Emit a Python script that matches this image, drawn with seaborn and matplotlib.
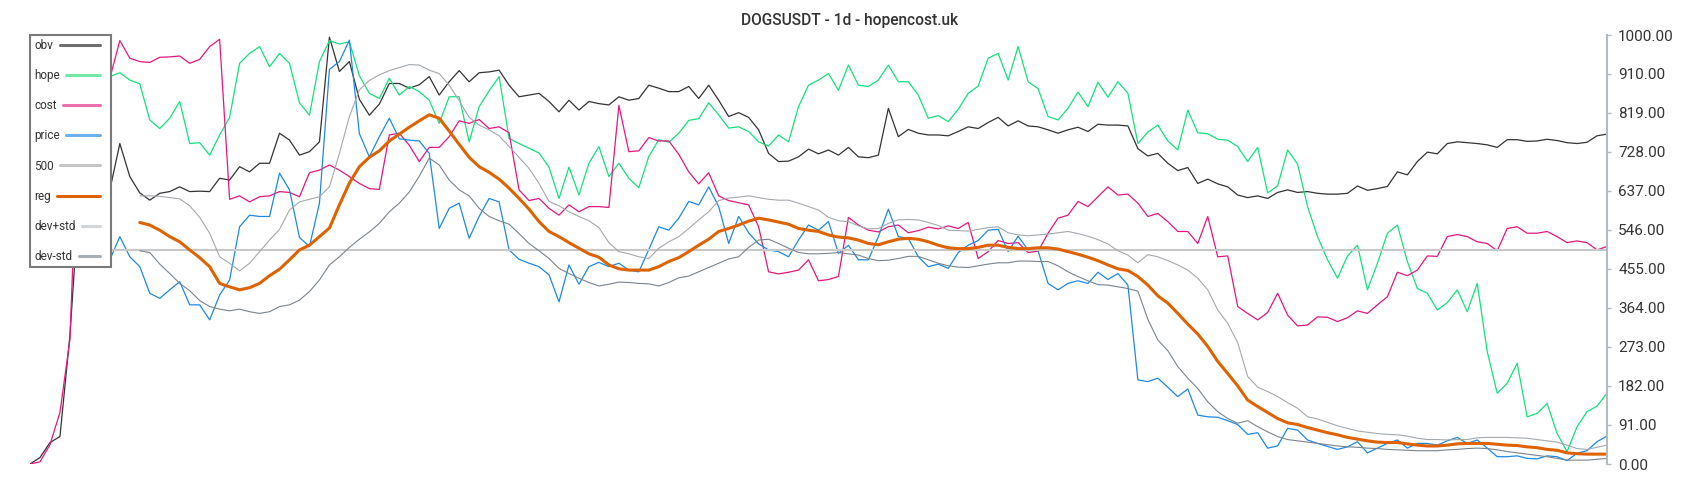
import numpy as np
import pandas as pd
import matplotlib
matplotlib.use("Agg")
import matplotlib.pyplot as plt
from matplotlib.lines import Line2D
from matplotlib.legend_handler import HandlerBase
import seaborn as sns

title = "DOGSUSDT - 1d - hopencost.uk"
labels = ["obv", "hope", "cost", "price", "500", "reg", "dev+std", "dev-std"]
y_ticks = [0, 91, 182, 273, 364, 455, 546, 637, 728, 819, 910, 1000]
level_500 = 500

# one value per day (0..1000 scale)
obv = [0, 15, 50, 64, 300, 650, 660, 650,
       639, 747, 670, 632, 615, 631, 635, 646, 635, 636,
       635, 666, 662, 693, 681, 701, 701, 771, 755, 720,
       728, 751, 995, 915, 938, 850, 813, 839, 887, 887,
       876, 884, 903, 860, 891, 917, 891, 912, 914, 918,
       883, 856, 860, 864, 845, 821, 848, 825, 845, 840,
       837, 856, 848, 852, 883, 876, 868, 868, 880, 852,
       883, 848, 810, 819, 808, 779, 724, 705, 706, 716,
       734, 723, 732, 720, 738, 716, 714, 720, 829, 763,
       780, 771, 767, 767, 765, 775, 786, 782, 796, 808,
       788, 800, 788, 786, 779, 771, 779, 785, 775, 792,
       790, 790, 788, 735, 718, 724, 701, 684, 691, 654,
       664, 653, 646, 627, 621, 625, 619, 633, 639, 633,
       635, 631, 629, 629, 631, 648, 638, 642, 647, 681,
       674, 705, 727, 723, 747, 751, 749, 747, 744, 738,
       756, 756, 752, 753, 757, 754, 749, 747, 750, 765, 769]

hope = [880, 900, 920, 910, 890, 900, 910, 905,
        903, 912, 895, 886, 802, 782, 806, 845, 747, 749,
        720, 767, 808, 934, 957, 973, 926, 957, 934, 842,
        813, 938, 987, 979, 984, 905, 864, 852, 899, 860,
        880, 868, 848, 794, 856, 856, 751, 833, 870, 903,
        759, 747, 736, 725, 692, 619, 692, 627, 701, 740,
        670, 701, 666, 644, 717, 756, 750, 771, 801, 805,
        842, 814, 783, 786, 775, 751, 741, 767, 751, 833,
        883, 895, 910, 871, 930, 883, 880, 895, 930, 891,
        891, 860, 806, 812, 798, 827, 864, 881, 946, 957,
        895, 973, 891, 875, 810, 802, 829, 867, 833, 890,
        855, 891, 864, 747, 774, 790, 753, 732, 825, 772,
        770, 757, 755, 740, 705, 738, 632, 648, 732, 699,
        600, 530, 476, 433, 485, 510, 406, 468, 538, 557,
        472, 409, 398, 359, 376, 406, 355, 421, 262, 165,
        188, 235, 110, 118, 141, 71, 29, 87, 122, 135, 165]

cost = [0, 5, 45, 120, 290, 900, 920, 940,
        899, 987, 946, 938, 936, 948, 949, 951, 934, 943,
        973, 990, 617, 625, 611, 623, 625, 635, 633, 623,
        679, 685, 697, 685, 670, 654, 642, 640, 767, 771,
        743, 705, 738, 738, 763, 800, 794, 803, 782, 786,
        772, 639, 614, 619, 596, 580, 604, 588, 600, 600,
        598, 836, 728, 730, 761, 753, 753, 722, 681, 653,
        679, 625, 614, 609, 604, 553, 448, 443, 447, 452,
        476, 427, 430, 437, 575, 557, 545, 541, 553, 557,
        539, 544, 552, 548, 555, 549, 563, 479, 495, 521,
        514, 516, 493, 496, 538, 573, 580, 612, 600, 623,
        646, 627, 629, 608, 577, 584, 565, 542, 542, 514,
        577, 483, 485, 367, 351, 336, 353, 398, 347, 322,
        324, 343, 342, 332, 341, 357, 351, 371, 390, 447,
        439, 452, 485, 484, 530, 535, 530, 518, 514, 497,
        549, 553, 538, 538, 542, 530, 516, 520, 516, 499, 507]

price = [560, 580, 600, 590, 570, 560, 540, 520,
         476, 530, 483, 460, 398, 386, 406, 425, 371, 371,
         336, 394, 429, 553, 580, 577, 577, 678, 639, 528,
         507, 608, 920, 938, 988, 770, 716, 763, 806, 758,
         755, 753, 724, 549, 596, 608, 526, 577, 619, 611,
         499, 477, 468, 460, 441, 378, 464, 419, 460, 470,
         460, 468, 452, 448, 500, 553, 545, 573, 612, 604,
         646, 600, 514, 577, 539, 513, 499, 495, 483, 522,
         557, 545, 565, 491, 510, 476, 476, 530, 594, 530,
         526, 483, 460, 466, 456, 493, 510, 521, 545, 547,
         495, 531, 499, 497, 421, 406, 421, 427, 421, 447,
         430, 444, 417, 196, 192, 200, 179, 157, 175, 114,
         110, 109, 101, 92, 69, 73, 37, 42, 83, 79,
         56, 48, 41, 34, 40, 52, 26, 37, 48, 56,
         37, 48, 48, 44, 54, 62, 48, 56, 37, 17,
         17, 19, 13, 12, 19, 17, 8, 25, 31, 52, 65]

# rolling lines: they only start once their window is full
reg = [563, 557, 545, 530, 518, 499, 481, 460, 421, 413,
       406, 411, 421, 439, 454, 476, 499, 510, 530, 550,
       604, 655, 693, 715, 730, 753, 769, 785, 800, 814,
       806, 776, 745, 715, 693, 680, 664, 643, 619, 594,
       565, 542, 530, 516, 503, 490, 482, 464, 455, 452,
       452, 452, 460, 472, 481, 495, 510, 524, 542, 549,
       557, 566, 573, 569, 564, 559, 549, 545, 542, 534,
       529, 527, 522, 514, 511, 518, 524, 526, 524, 518,
       510, 504, 502, 502, 505, 510, 510, 505, 502, 502,
       504, 504, 501, 495, 489, 482, 474, 464, 455, 451,
       437, 417, 392, 375, 351, 326, 303, 274, 239, 211,
       182, 149, 134, 120, 106, 96, 92, 85, 79, 73,
       68, 62, 58, 54, 51, 50, 50, 47, 44, 42,
       42, 44, 47, 48, 48, 48, 46, 44, 43, 40,
       38, 34, 32, 26, 24, 23, 23, 23]

dev_plus = [625, 625, 624, 621, 618, 602, 575, 538, 483, 468,
            450, 468, 495, 522, 547, 592, 611, 617, 623, 646,
            724, 810, 872, 894, 907, 917, 924, 931, 930, 918,
            910, 883, 847, 808, 790, 779, 765, 740, 715, 689,
            654, 612, 602, 588, 577, 567, 551, 516, 495, 490,
            483, 479, 503, 518, 530, 549, 569, 588, 614, 620,
            622, 625, 621, 617, 615, 615, 608, 600, 592, 575,
            567, 565, 555, 548, 549, 561, 569, 570, 569, 563,
            556, 545, 544, 543, 547, 551, 553, 539, 534, 532,
            534, 536, 539, 542, 537, 531, 523, 513, 497, 487,
            469, 488, 483, 474, 464, 452, 433, 406, 359, 328,
            283, 204, 179, 169, 157, 143, 130, 110, 105, 97,
            89, 83, 77, 74, 71, 69, 68, 65, 60, 57,
            57, 56, 57, 57, 61, 62, 62, 62, 61, 60,
            57, 54, 51, 44, 36, 34, 39, 44]

dev_minus = [497, 493, 466, 444, 421, 404, 381, 367, 361, 357,
             361, 355, 351, 355, 367, 371, 382, 402, 429, 464,
             483, 505, 524, 541, 561, 588, 608, 634, 671, 713,
             697, 662, 639, 625, 596, 577, 567, 559, 537, 514,
             497, 479, 456, 444, 433, 423, 415, 419, 424, 423,
             421, 420, 415, 423, 434, 438, 448, 458, 468, 478,
             483, 505, 522, 524, 514, 503, 493, 490, 490, 491,
             493, 490, 487, 479, 474, 475, 479, 484, 484, 476,
             468, 462, 459, 458, 462, 466, 469, 469, 473, 473,
             472, 472, 462, 448, 437, 427, 418, 417, 413, 409,
             403, 337, 289, 264, 227, 200, 176, 145, 122, 106,
             95, 101, 87, 75, 64, 57, 54, 51, 48, 45,
             42, 40, 39, 37, 36, 34, 33, 32, 31, 31,
             31, 33, 34, 36, 37, 36, 33, 29, 26, 23,
             20, 17, 13, 9, 9, 9, 11, 13]

n = len(obv)
df = pd.DataFrame({"day": np.arange(n), "obv": obv, "hope": hope,
                   "cost": cost, "price": price})
for col, vals in [("reg", reg), ("dev+std", dev_plus), ("dev-std", dev_minus)]:
    df[col] = pd.Series(vals, index=range(n - len(vals), n), dtype=float)

# colour, width
line_style = {
    "obv": ("#333333", 0.9),
    "hope": ("#14e07c", 0.9),
    "cost": ("#e3177f", 0.9),
    "price": ("#1e88e5", 0.9),
    "reg": ("#de6200", 2.2),
    "dev+std": ("#a4a9ae", 0.8),
    "dev-std": ("#7a848d", 0.8),
}
legend_color = {"obv": "#6e6e6e", "hope": "#72eaa6", "cost": "#ea6fae",
                "price": "#6cb0ec", "500": "#c6c6c6", "reg": "#dd6200",
                "dev+std": "#d2d6d9", "dev-std": "#a8b0b6"}

sns.set_style("white")
plt.rcParams["font.family"] = ["Roboto", "DejaVu Sans"]

fig = plt.figure(figsize=(17, 5), dpi=100)
ax = fig.add_axes([30 / 1700, 36 / 500, 1577 / 1700, 429 / 500])

for name in ["obv", "hope", "cost", "price"]:
    c, lw = line_style[name]
    sns.lineplot(data=df, x="day", y=name, color=c, linewidth=lw, ax=ax)
ax.axhline(level_500, color="#c8c8c8", linewidth=1.5)
for name in ["reg", "dev+std", "dev-std"]:
    c, lw = line_style[name]
    sns.lineplot(data=df, x="day", y=name, color=c, linewidth=lw, ax=ax)

ax.set_xlim(0, n - 1)
ax.set_ylim(0, 1000)
ax.set_xlabel("")
ax.set_ylabel("")
ax.set_xticks([])
ax.yaxis.tick_right()
ax.set_yticks(y_ticks)
ax.set_yticklabels([f"{v:.2f}" for v in y_ticks])
for s in ["left", "top", "bottom"]:
    ax.spines[s].set_visible(False)
ax.spines["right"].set_visible(True)
ax.spines["right"].set_color("#b3bac0")
ax.spines["right"].set_linewidth(1.5)
ax.tick_params(axis="y", left=False, right=True, direction="out", length=3,
               width=1, color="#b3bac0", labelsize=11, labelcolor="#333333", pad=5)


class RowHandler(HandlerBase):
    # handle fills the room after the label, so labels line up on the left
    def __init__(self, box_pt, line_pt):
        super().__init__()
        self.box_pt = box_pt
        self.line_pt = line_pt

    def legend_artist(self, legend, orig_handle, fontsize, handlebox):
        handlebox.width = self.box_pt
        return super().legend_artist(legend, orig_handle, fontsize, handlebox)

    def create_artists(self, legend, orig_handle, xdescent, ydescent,
                       width, height, fontsize, trans):
        y = height / 2 - ydescent
        ln = Line2D([-xdescent, -xdescent + self.line_pt], [y, y],
                    color=orig_handle.get_color(), linewidth=orig_handle.get_linewidth())
        ln.set_transform(trans)
        return [ln]


leg_fs = 8.5
pad = 0.35
textpad = 0.55
fig.canvas.draw()
rend = fig.canvas.get_renderer()
px2pt = 72 / fig.dpi
text_w = []
for lab in labels:
    t = fig.text(0, 0, lab, fontsize=leg_fs)
    text_w.append(t.get_window_extent(rend).width)
    t.remove()

inner_px = 81 - 2 * pad * leg_fs / px2pt
gap_px = textpad * leg_fs / px2pt
proxies, hmap = [], {}
for lab, w in zip(labels, text_w):
    p = Line2D([], [], color=legend_color[lab], linewidth=2.2)
    box_px = inner_px - gap_px - w
    hmap[p] = RowHandler(box_px * px2pt, (box_px - 6.5) * px2pt)
    proxies.append(p)

leg = ax.legend(proxies, labels, loc="upper left", bbox_to_anchor=(0, 1),
                borderaxespad=0, markerfirst=False, handler_map=hmap,
                fontsize=leg_fs, labelspacing=1.45, borderpad=pad,
                handletextpad=textpad, frameon=True, fancybox=False,
                framealpha=1, edgecolor="#7a7a7a", labelcolor="#333333")
leg.get_frame().set_linewidth(1.5)

fig.text(0.5, 1 - 20 / 500, title, ha="center", va="center", fontsize=11.2,
         fontweight="medium", color="#333333")

fig.savefig("out.png", dpi=100)
